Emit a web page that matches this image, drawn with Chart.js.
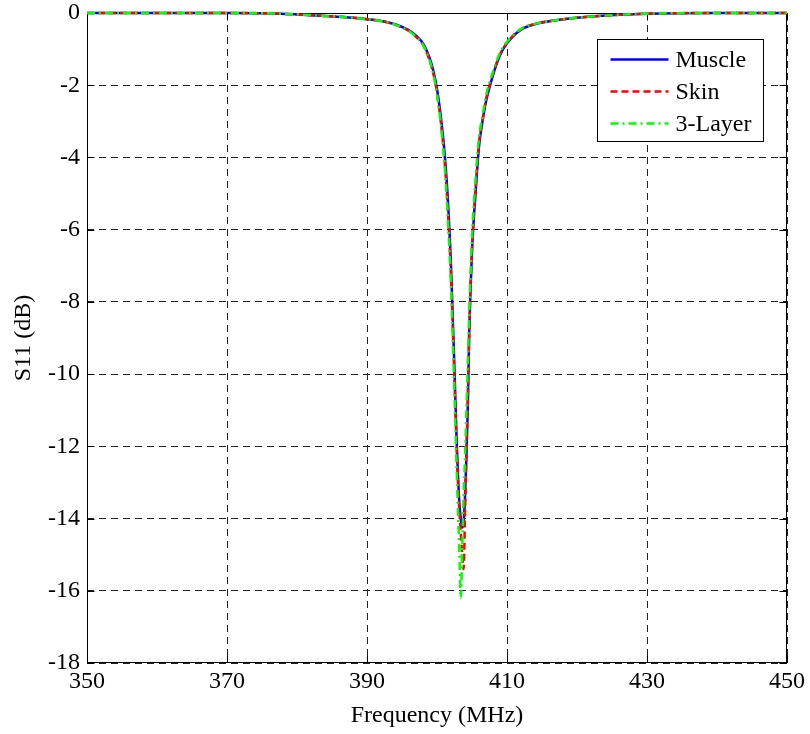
<!DOCTYPE html>
<html>
<head>
<meta charset="utf-8">
<script src="https://cdn.jsdelivr.net/npm/chart.js@4/dist/chart.umd.min.js"></script>
<style>
  html, body { margin: 0; padding: 0; background: #fff; }
  canvas { display: block; }
</style>
</head>
<body>
<canvas id="c" width="810" height="734"></canvas>
<script>
// Frequency sweep (MHz) shared by all three measurements
const freq = [350, 360, 370, 376, 380, 384, 388, 390, 392, 394,
  396, 397, 398, 399, 399.5, 400, 400.5, 401, 401.5, 402,
  402.5, 402.8, 403, 403.2, 403.4, 403.6, 403.8, 404, 404.2, 404.4,
  404.6, 405, 405.5, 406, 406.5, 407, 408, 409, 410, 412,
  414, 416, 420, 426, 430, 440, 450];

// S11 (dB) per phantom
const muscle = [0, 0, 0, -0.01, -0.04, -0.08, -0.13, -0.17, -0.22, -0.31,
  -0.48, -0.63, -0.84, -1.28, -1.62, -2.1, -2.8, -3.7, -5.0, -7.0,
  -9.9, -11.8, -12.8, -13.6, -14.0, -14.25, -14.1, -13.4, -12.3, -10.9,
  -8.9, -6.6, -5.0, -3.7, -3.0, -2.45, -1.72, -1.17, -0.84, -0.46,
  -0.31, -0.23, -0.13, -0.05, -0.02, 0, 0];

const skin = [0, 0, 0, -0.01, -0.04, -0.08, -0.13, -0.17, -0.22, -0.32,
  -0.5, -0.66, -0.88, -1.35, -1.7, -2.2, -2.95, -3.9, -5.3, -7.3,
  -10.2, -12.0, -13.0, -13.8, -14.4, -15.0, -15.4, -13.9, -12.2, -10.7,
  -8.8, -6.5, -4.9, -3.6, -2.95, -2.4, -1.68, -1.15, -0.82, -0.45,
  -0.3, -0.23, -0.13, -0.05, -0.02, 0, 0];

const threeLayer = [0, 0, 0, -0.01, -0.04, -0.08, -0.13, -0.17, -0.22, -0.32,
  -0.5, -0.66, -0.88, -1.35, -1.72, -2.25, -3.0, -4.0, -5.5, -7.6,
  -10.6, -12.6, -13.8, -15.0, -16.2, -14.8, -13.4, -12.3, -11.0, -9.7,
  -8.3, -6.2, -4.6, -3.45, -2.85, -2.3, -1.62, -1.1, -0.8, -0.44,
  -0.3, -0.23, -0.13, -0.05, -0.02, 0, 0];

const seriesNames = ['Muscle', 'Skin', '3-Layer'];
const xTicks = [350, 370, 390, 410, 430, 450];
const yTicks = [0, -2, -4, -6, -8, -10, -12, -14, -16, -18];

const FONT = 'Liberation Serif, Times New Roman, serif';

function points(values) {
  return freq.map((f, i) => ({ x: f, y: values[i] }));
}

// Axes box with inward tick marks
const axesBox = {
  id: 'axesBox',
  beforeDatasetsDraw(chart) {
    const { ctx, chartArea: a, scales: { x, y } } = chart;
    const L = Math.round(a.left) + 0.5, R = Math.round(a.right) - 0.5;
    const T = Math.round(a.top) + 0.5, B = Math.round(a.bottom) - 0.5;
    ctx.save();
    ctx.strokeStyle = '#000';
    ctx.lineWidth = 1;
    ctx.beginPath();
    xTicks.forEach(v => {
      const px = Math.round(x.getPixelForValue(v)) + 0.5;
      ctx.moveTo(px, B); ctx.lineTo(px, B - 7);
      ctx.moveTo(px, T); ctx.lineTo(px, T + 7);
    });
    yTicks.forEach(v => {
      const py = Math.round(y.getPixelForValue(v)) + 0.5;
      ctx.moveTo(L, py); ctx.lineTo(L + 7, py);
      ctx.moveTo(R, py); ctx.lineTo(R - 7, py);
    });
    ctx.stroke();
    ctx.strokeRect(L, T, R - L, B - T);
    ctx.restore();
  }
};

// Boxed legend in the upper right of the axes
const boxLegend = {
  id: 'boxLegend',
  afterDatasetsDraw(chart) {
    const { ctx, chartArea: a } = chart;
    const w = 166, h = 102;
    const left = Math.round(a.right - 24 - w) + 0.5;
    const top = Math.round(a.top + 26) + 0.5;
    ctx.save();
    ctx.fillStyle = '#fff';
    ctx.fillRect(left, top, w, h);
    ctx.strokeStyle = '#000';
    ctx.lineWidth = 1;
    ctx.strokeRect(left, top, w, h);
    ctx.font = '24px ' + FONT;
    ctx.textBaseline = 'middle';
    ctx.textAlign = 'left';
    chart.data.datasets.forEach((ds, i) => {
      const cy = top + 20 + i * 32;
      ctx.save();
      ctx.strokeStyle = ds.borderColor;
      ctx.lineWidth = ds.borderWidth;
      ctx.setLineDash(ds.borderDash || []);
      ctx.beginPath();
      ctx.moveTo(left + 13, cy);
      ctx.lineTo(left + 71, cy);
      ctx.stroke();
      ctx.restore();
      ctx.fillStyle = '#000';
      ctx.fillText(ds.label, left + 78, cy + 1);
    });
    ctx.restore();
  }
};

const common = {
  pointRadius: 0,
  fill: false,
  cubicInterpolationMode: 'monotone',
  clip: 6
};

new Chart(document.getElementById('c'), {
  type: 'line',
  data: {
    datasets: [
      { ...common, label: seriesNames[0], data: points(muscle), borderColor: '#0000ff', borderWidth: 2.5, borderDash: [], order: 2 },
      { ...common, label: seriesNames[1], data: points(skin), borderColor: '#ff0000', borderWidth: 2.5, borderDash: [7, 4], order: 1 },
      { ...common, label: seriesNames[2], data: points(threeLayer), borderColor: '#00ff00', borderWidth: 2.5, borderDash: [8, 4, 2, 4], order: 0 }
    ]
  },
  options: {
    responsive: false,
    animation: false,
    events: [],
    layout: { padding: { left: 0, right: 23, top: 13, bottom: 0 } },
    plugins: { legend: { display: false }, tooltip: { enabled: false } },
    scales: {
      x: {
        type: 'linear',
        min: 350, max: 450,
        afterBuildTicks(s) { s.ticks = xTicks.map(v => ({ value: v })); },
        afterFit(s) { s.height = 71; s.paddingLeft = 0; s.paddingRight = 0; },
        grid: { color: '#222', lineWidth: 1, drawTicks: false },
        border: { display: false, dash: [7, 5] },
        ticks: { color: '#000', padding: 7, font: { family: FONT, size: 24, lineHeight: 1 }, maxRotation: 0, autoSkip: false },
        title: { display: true, text: 'Frequency (MHz)', color: '#000', font: { family: FONT, size: 24, lineHeight: 1.2 }, padding: { top: 0, bottom: 4 } }
      },
      y: {
        type: 'linear',
        min: -18, max: 0,
        afterBuildTicks(s) { s.ticks = yTicks.slice().reverse().map(v => ({ value: v })); },
        afterFit(s) { s.width = 87; s.paddingTop = 0; s.paddingBottom = 0; },
        grid: { color: '#222', lineWidth: 1, drawTicks: false },
        border: { display: false, dash: [7, 5] },
        ticks: { color: '#000', padding: 7, font: { family: FONT, size: 24, lineHeight: 1 }, autoSkip: false },
        title: { display: true, text: 'S11 (dB)', color: '#000', font: { family: FONT, size: 24, lineHeight: 1.2 }, padding: { top: 9, bottom: 0 } }
      }
    }
  },
  plugins: [axesBox, boxLegend]
});
</script>
</body>
</html>
